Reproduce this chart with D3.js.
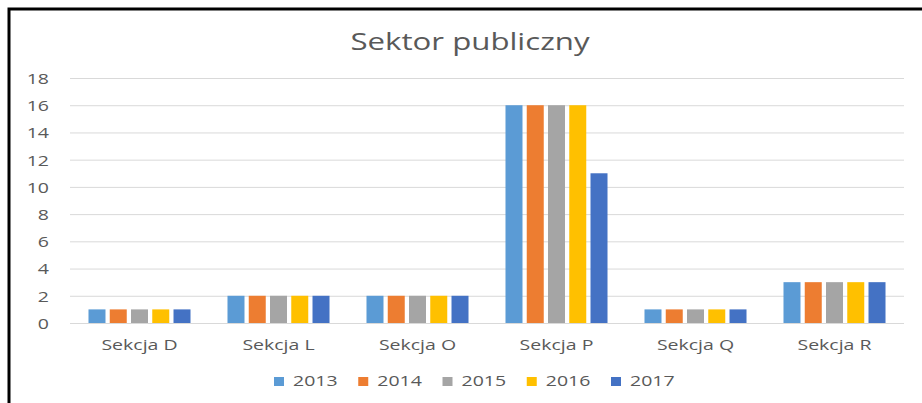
<!DOCTYPE html>
<html>
<head>
<meta charset="utf-8">
<script src="https://d3js.org/d3.v7.min.js"></script>
<style>
  body { margin: 0; background: #fff; }
  text { font-family: "Open Sans", sans-serif; fill: #595959; }
</style>
</head>
<body>
<div id="chart-area"></div>
<script>
// Data
var categories = ["Sekcja D", "Sekcja L", "Sekcja O", "Sekcja P", "Sekcja Q", "Sekcja R"];
var years = ["2013", "2014", "2015", "2016", "2017"];
var values2013 = [1, 2, 2, 16, 1, 3];
var values2014 = [1, 2, 2, 16, 1, 3];
var values2015 = [1, 2, 2, 16, 1, 3];
var values2016 = [1, 2, 2, 16, 1, 3];
var values2017 = [1, 2, 2, 11, 1, 3];
var yTicks = [0, 2, 4, 6, 8, 10, 12, 14, 16, 18];
var colors = ["#5b9bd5", "#ed7d31", "#a5a5a5", "#ffc000", "#4472c4"];

var series = [values2013, values2014, values2015, values2016, values2017];

// Flatten to rows
var data = [];
categories.forEach(function(c, i) {
  years.forEach(function(yr, j) {
    data.push({ cat: c, year: yr, value: series[j][i] });
  });
});

var W = 922, H = 403;
var sx = 1.3; // the source picture is stretched sideways

// Add the SVG canvas
var svg = d3.select("#chart-area").append("svg")
  .attr("width", W)
  .attr("height", H);

function stretch(sel) {
  sel.each(function() {
    var w = this.getComputedTextLength();
    d3.select(this)
      .attr("textLength", w * sx)
      .attr("lengthAdjust", "spacingAndGlyphs");
  });
}

// Scales
var x0 = d3.scaleBand()
  .domain(categories)
  .range([70, 904])
  .padding(0);

var x1 = d3.scaleBand()
  .domain(years)
  .range([0, x0.bandwidth()])
  .paddingInner(0.2)
  .paddingOuter(0.87);

var y = d3.scaleLinear()
  .domain([0, 18])
  .range([323, 78]);

var color = d3.scaleOrdinal()
  .domain(years)
  .range(colors);

// Gridlines
svg.append("g")
  .selectAll("line")
  .data(yTicks)
  .enter().append("line")
    .attr("x1", 70)
    .attr("x2", 904)
    .attr("y1", function(d) { return y(d) + 0.5; })
    .attr("y2", function(d) { return y(d) + 0.5; })
    .attr("stroke", "#d9d9d9")
    .attr("stroke-width", 1);

// Y axis labels
var yAxisCall = d3.axisLeft(y)
  .tickValues(yTicks)
  .tickSize(0)
  .tickPadding(0);
var yAxis = svg.append("g")
  .attr("transform", "translate(49,0)")
  .call(yAxisCall);
yAxis.select(".domain").remove();
yAxis.selectAll("text")
  .attr("font-size", "15px")
  .attr("font-family", "Open Sans")
  .attr("fill", "#595959")
  .attr("dy", "0.36em")
  .call(stretch);

// Bars
svg.append("g")
  .selectAll("rect")
  .data(data)
  .enter().append("rect")
    .attr("x", function(d) { return x0(d.cat) + x1(d.year); })
    .attr("y", function(d) { return y(d.value); })
    .attr("width", x1.bandwidth())
    .attr("height", function(d) { return y(0) - y(d.value); })
    .attr("fill", function(d) { return color(d.year); });

// X axis labels
var xAxisCall = d3.axisBottom(x0)
  .tickSize(0)
  .tickPadding(0);
var xAxis = svg.append("g")
  .attr("transform", "translate(0,335)")
  .call(xAxisCall);
xAxis.select(".domain").remove();
xAxis.selectAll("text")
  .attr("font-size", "15px")
  .attr("font-family", "Open Sans")
  .attr("fill", "#595959")
  .attr("dy", "0.98em")
  .call(stretch);

// Title
svg.append("text")
  .attr("x", 470)
  .attr("y", 50)
  .attr("text-anchor", "middle")
  .attr("font-size", "24px")
  .text("Sektor publiczny")
  .call(stretch);

// Legend
var legend = svg.append("g")
  .selectAll("g")
  .data(years)
  .enter().append("g")
    .attr("transform", function(d, i) { return "translate(" + (274 + i * 84.25) + ",377)"; });

legend.append("rect")
  .attr("width", 10)
  .attr("height", 9)
  .attr("fill", function(d) { return color(d); });

legend.append("text")
  .attr("x", 19)
  .attr("y", 9)
  .attr("font-size", "15px")
  .text(function(d) { return d; })
  .call(stretch);

// Frame (top and left edges only)
svg.append("path")
  .attr("d", "M9,403 L9,9 L922,9")
  .attr("fill", "none")
  .attr("stroke", "#000")
  .attr("stroke-width", 3);
</script>
</body>
</html>
